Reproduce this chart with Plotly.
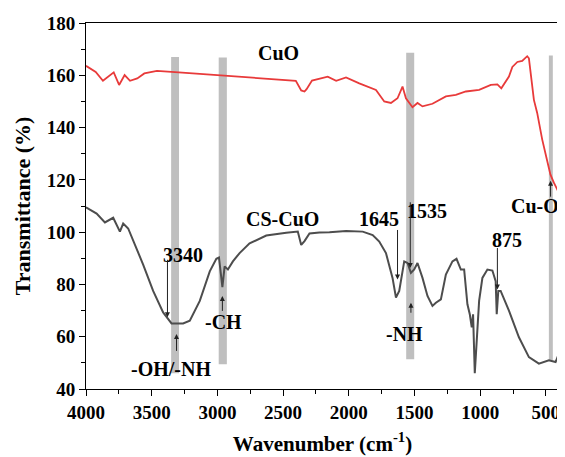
import plotly.graph_objects as go

# CuO spectrum (red)
cuo_wn = [4000, 3926, 3871, 3830, 3789, 3748, 3706, 3665, 3610, 3556,
          3460, 3295, 3020, 2746, 2472, 2403, 2362, 2337, 2321, 2280,
          2160, 2096, 2021, 1920, 1793, 1730, 1679, 1629, 1591, 1565,
          1515, 1477, 1439, 1363, 1261, 1185, 1109, 1008, 919, 869,
          839, 781, 755, 717, 680, 642, 629, 591, 566, 528,
          490, 465, 440, 400]
cuo_t = [163.6, 161.3, 157.9, 159.5, 161.1, 156.3, 160.1, 157.9, 158.8, 160.7,
         161.7, 161.1, 160.1, 159.2, 158.4, 157.9, 154.2, 153.8, 154.7, 158,
         159.5, 157.9, 159.2, 156.9, 154.4, 150, 149.4, 151.2, 155.7, 151.2,
         147.8, 149.4, 148.1, 149.1, 151.9, 152.5, 153.8, 154.4, 156.3, 156.5,
         155, 159.5, 163.2, 165.1, 165.5, 167.3, 166.5, 150.6, 145.6, 135.5,
         127.3, 122, 119, 115]

# CS-CuO spectrum (dark grey)
cs_wn = [4000, 3919, 3856, 3793, 3742, 3717, 3679, 3641, 3565, 3489,
         3413, 3349, 3261, 3210, 3134, 3058, 3008, 2988, 2970, 2962,
         2945, 2920, 2882, 2831, 2755, 2628, 2476, 2388, 2362, 2337,
         2299, 2223, 2147, 2020, 1894, 1818, 1768, 1717, 1667, 1641,
         1616, 1578, 1553, 1527, 1502, 1477, 1439, 1401, 1363, 1337,
         1299, 1261, 1211, 1180, 1147, 1122, 1097, 1079, 1064, 1054,
         1041, 1029, 1008, 983, 945, 907, 882, 874, 862, 844,
         781, 705, 629, 553, 477, 426, 401]
cs_t = [109.5, 107.1, 103.7, 105.5, 100.2, 103.3, 101.4, 97, 87.6, 77.5,
        69.3, 65.1, 65.1, 66.1, 73.7, 85, 89.8, 90.3, 81.2, 79,
        86.9, 85.7, 88.8, 92, 95.7, 98.7, 99.8, 100.2, 95.1, 96.6,
        99.5, 99.9, 100, 100.4, 100.2, 98.9, 96.4, 92, 82.5, 75,
        77.5, 88.8, 88.2, 84.4, 85.7, 88.2, 82.5, 75.6, 71.8, 73,
        74.3, 83.8, 88.8, 89.8, 85.7, 85.7, 72.4, 68.6, 63.6, 68.6,
        46, 56, 73.7, 82.5, 85.7, 85.3, 81.2, 68.6, 77.5, 77.5,
        70, 59.8, 52.2, 49.7, 51, 50.3, 53.5]

# grey highlight bands: (wn from, wn to, bottom, top)
bands = [(3352, 3292, 46, 167), (2990, 2928, 49.5, 166.8),
         (1563, 1502, 51.4, 168.6), (477, 447, 51, 167.6)]

# labels: text, wavenumber, transmittance
labels = [("CuO", 2535, 168.6), ("CS-CuO", 2505, 105), ("3340", 3263, 91.3),
          ("-OH/-NH", 3356, 47.8), ("-CH", 2954, 65.5), ("1645", 1768, 104.9),
          ("1535", 1401, 108), ("-NH", 1578, 61), ("875", 796, 97),
          ("Cu-O", 585, 110)]

# arrows: wavenumber, tail, head
arrows = [(3380, 90, 67.4), (3311, 54, 61), (2962, 69.3, 75.6),
          (1629, 101.4, 81.9), (1532, 112, 86.3), (1527, 68.6, 73),
          (869, 94.5, 78.1), (464, 113, 119.7)]

FONT = "Liberation Serif, Times New Roman, serif"

fig = go.Figure()
fig.add_trace(go.Scatter(x=cuo_wn, y=cuo_t, mode="lines", name="CuO",
                         line=dict(color="#e83a3a", width=1.8)))
fig.add_trace(go.Scatter(x=cs_wn, y=cs_t, mode="lines", name="CS-CuO",
                         line=dict(color="#4d4d4d", width=2)))

for x0, x1, y0, y1 in bands:
    fig.add_shape(type="rect", xref="x", yref="y", x0=x0, x1=x1, y0=y0, y1=y1,
                  fillcolor="#bfbfbf", line_width=0, layer="below")

for txt, x, y in labels:
    fig.add_annotation(x=x, y=y, text=txt, showarrow=False,
                       font=dict(family=FONT, size=20, color="black", weight="bold"))

for x, tail, head in arrows:
    fig.add_annotation(x=x, y=head, ax=x, ay=tail, axref="x", ayref="y",
                       text="", showarrow=True, arrowhead=2, arrowsize=1,
                       arrowwidth=1, arrowcolor="#222", standoff=0)

axis_common = dict(showline=True, linecolor="black", linewidth=1, mirror=True,
                   ticks="outside", ticklen=6, tickcolor="black", showgrid=False,
                   zeroline=False,
                   tickfont=dict(family=FONT, size=19, color="black", weight="bold"))

fig.update_xaxes(range=[4000, 400], dtick=500,
                 minor=dict(ticks="outside", ticklen=4, dtick=250, tickcolor="black"),
                 title=dict(text="Wavenumber (cm<sup>-1</sup>)", standoff=14,
                            font=dict(family=FONT, size=21, color="black", weight="bold")),
                 **axis_common)
fig.update_yaxes(range=[40, 180], dtick=20,
                 minor=dict(ticks="outside", ticklen=4, dtick=10, tickcolor="black"),
                 title=dict(text="Transmittance (%)", standoff=10,
                            font=dict(family=FONT, size=22, color="black", weight="bold")),
                 **axis_common)

# page body adds an 8px offset, so the figure is sized to fit the window
fig.update_layout(width=557, height=449, showlegend=False,
                  margin=dict(l=78, r=5, t=11, b=68),
                  plot_bgcolor="white", paper_bgcolor="white")

fig.write_html("out.html")
